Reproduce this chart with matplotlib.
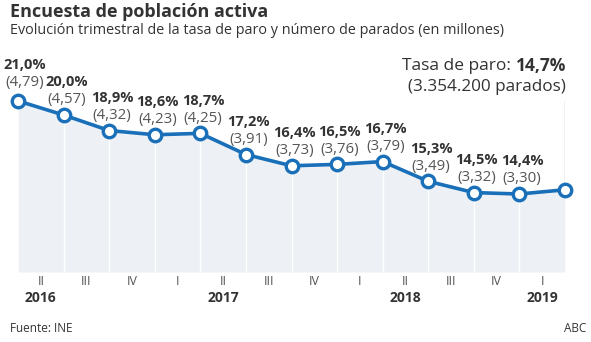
import matplotlib
matplotlib.use('Agg')
import matplotlib.pyplot as plt
import numpy as np

plt.rcParams['font.family'] = ['Open Sans', 'DejaVu Sans']

# tasa de paro (%) y parados (millones), 2016 I -> 2019 I
tasa = [21.0, 20.0, 18.9, 18.6, 18.7, 17.2, 16.4, 16.5, 16.7, 15.3, 14.5, 14.4, 14.7]
parados = ['4,79', '4,57', '4,32', '4,23', '4,25', '3,91', '3,73', '3,76', '3,79', '3,49', '3,32', '3,30']
tasa_txt = ['21,0%', '20,0%', '18,9%', '18,6%', '18,7%', '17,2%', '16,4%', '16,5%',
            '16,7%', '15,3%', '14,5%', '14,4%']
trimestres = ['II', 'III', 'IV', 'I', 'II', 'III', 'IV', 'I', 'II', 'III', 'IV', 'I']
years = ['2016', '2017', '2018', '2019']
year_pos = [0, 4, 8, 11]  # under which quarter label

blue = '#1a6fb9'
fill = '#edf1f5'
dark = '#333333'
grey = '#555555'

W, H = 591, 342
fig = plt.figure(figsize=(W/100, H/100), dpi=100)
ax = fig.add_axes([18/W, (H-272)/H, (565-18)/W, (272-60)/H])

x = np.arange(len(tasa))
ymin = 8.87
ax.fill_between(x, tasa, ymin, color=fill, lw=0, zorder=0)
ax.vlines(x[1:-1], ymin, tasa[1:-1], color='white', lw=1, zorder=1)
ax.plot(x, tasa, color=blue, lw=2.6, marker='o', ms=9, mfc='white', mec=blue,
        mew=2.4, clip_on=False, zorder=3)

for i in range(len(tasa_txt)):
    dx, dy = (5, 2) if i == 0 else (2, 0)  # first label nudged off the edge
    ax.annotate(tasa_txt[i], (x[i], tasa[i]), xytext=(dx, 23.5 + dy), textcoords='offset points',
                ha='center', va='center', fontsize=10.5, fontweight='bold', color=dark)
    ax.annotate('(' + parados[i] + ')', (x[i], tasa[i]), xytext=(dx, 11 + dy),
                textcoords='offset points', ha='center', va='center', fontsize=10.8, color=grey)

# linea de la ultima cifra
ax.plot([x[-1], x[-1]], [tasa[-1] + 0.3, 21.0], color='#bbbbbb', lw=1, zorder=2)
t1 = fig.text(566/W, 1 - 66/H, '14,7%', ha='right', va='center', fontsize=12.5,
              fontweight='bold', color=dark)
r = fig.canvas.get_renderer()
bw = t1.get_window_extent(r).width
fig.text((566 - bw - 5)/W, 1 - 66/H, 'Tasa de paro:', ha='right', va='center', fontsize=12.5,
         color=dark)
fig.text(566/W, 1 - 87/H, '(3.354.200 parados)', ha='right', va='center', fontsize=12.3,
         color=dark)

# eje x
tr = ax.get_xaxis_transform()
for i, q in enumerate(trimestres):
    ax.text(i + 0.5, -0.045, q, transform=tr, ha='center', va='center', fontsize=9, color=grey)
for y, p in zip(years, year_pos):
    ax.text(p + 0.5, -0.125, y, transform=tr, ha='center', va='center', fontsize=10,
            fontweight='bold', color=dark)

ax.set_xlim(0, 12)
ax.set_ylim(ymin, 23.9)
ax.axis('off')

fig.text(10/W, 1 - 12/H, 'Encuesta de población activa', fontsize=13, fontweight='bold',
         color=dark, va='center')
fig.text(10/W, 1 - 30/H, 'Evolución trimestral de la tasa de paro y número de parados (en millones)',
         fontsize=10.4, color=dark, va='center')
fig.text(10/W, 1 - 328/H, 'Fuente: INE', fontsize=8.5, color=dark, va='center')
fig.text(586/W, 1 - 328/H, 'ABC', fontsize=8.5, color=dark, va='center', ha='right')

fig.savefig('out.png', dpi=100)
